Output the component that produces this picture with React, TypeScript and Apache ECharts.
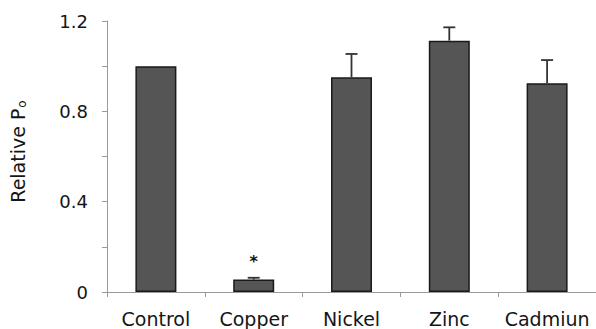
import React, { useEffect, useRef } from "react";
import * as echarts from "echarts";

const categories = ["Control", "Copper", "Nickel", "Zinc", "Cadmiun"];
const means = [1.0, 0.055, 0.951, 1.113, 0.924];
const errors = [0, 0.008, 0.103, 0.059, 0.103];
const significant = [false, true, false, false, false];
const yTicks = [0, 0.4, 0.8, 1.2];

const FONT = "DejaVu Sans, Verdana, sans-serif";

export default function App() {
  const ref = useRef<HTMLDivElement>(null);
  useEffect(() => {
    if (!ref.current) return;
    const chart = echarts.init(ref.current, undefined, { renderer: "svg" });
    const errData = categories.map((c, i) => [i, means[i], means[i] + errors[i], significant[i] ? 1 : 0]);
    chart.setOption({
      animation: false,
      grid: { left: 98, right: 0, top: 21, bottom: 37, containLabel: false },
      xAxis: {
        type: "category",
        data: categories,
        axisLine: { lineStyle: { color: "#9a9a9a", width: 1 } },
        axisTick: { show: true, length: 5, lineStyle: { color: "#9a9a9a" } },
        axisLabel: { color: "#151515", fontSize: 19, fontFamily: FONT, margin: 17, interval: 0 },
      },
      yAxis: {
        type: "value",
        min: 0,
        max: 1.2,
        interval: 0.2,
        splitLine: { show: false },
        axisLine: { show: true, lineStyle: { color: "#9a9a9a", width: 1 } },
        axisTick: { show: true, length: 5, lineStyle: { color: "#9a9a9a" } },
        axisLabel: {
          color: "#151515",
          fontSize: 18,
          fontFamily: FONT,
          margin: 19,
          formatter: (v: number) => {
            const hit = yTicks.find((t) => Math.abs(t - v) < 1e-6);
            return hit === undefined ? "" : String(hit);
          },
        },
        name: "{a|Relative P}{b|o}",
        nameLocation: "middle",
        nameGap: 79,
        nameRotate: 90,
        nameTextStyle: {
          padding: [0, 0, 0, 10],
          rich: {
            a: { fontSize: 19, fontFamily: FONT, color: "#151515" },
            b: { fontSize: 12, fontFamily: FONT, color: "#151515", padding: [9, 0, 0, 1] },
          },
        },
      },
      series: [
        {
          type: "bar",
          data: means,
          barWidth: 41,
          itemStyle: { color: "#555555", borderColor: "#1a1a1a", borderWidth: 1.5 },
        },
        {
          type: "custom",
          data: errData,
          z: 3,
          renderItem: (params: any, api: any) => {
            const x = api.value(0);
            const lo = api.coord([x, api.value(1)]);
            const hi = api.coord([x, api.value(2)]);
            const children: any[] = [];
            if (api.value(2) > api.value(1)) {
              children.push({
                type: "line",
                shape: { x1: lo[0], y1: lo[1], x2: hi[0], y2: hi[1] },
                style: { stroke: "#333", lineWidth: 1.8 },
              });
              children.push({
                type: "line",
                shape: { x1: hi[0] - 6, y1: hi[1], x2: hi[0] + 6, y2: hi[1] },
                style: { stroke: "#333", lineWidth: 1.8 },
              });
            }
            if (api.value(3) === 1) {
              children.push({
                type: "text",
                x: hi[0],
                y: hi[1] - 16,
                style: {
                  text: "*",
                  fontSize: 16,
                  fontWeight: "bold",
                  fontFamily: FONT,
                  fill: "#111",
                  align: "center",
                  verticalAlign: "middle",
                },
              });
            }
            return { type: "group", children };
          },
        },
      ],
    });
    return () => chart.dispose();
  }, []);
  return (
    <div
      ref={ref}
      style={{ position: "fixed", left: 0, top: 0, width: 596, height: 329, background: "#fff" }}
    />
  );
}
